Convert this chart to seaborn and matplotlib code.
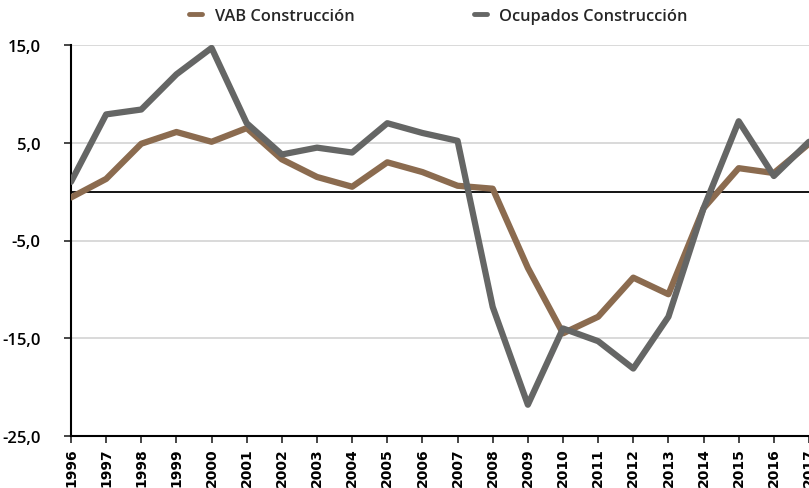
import matplotlib
matplotlib.use("Agg")
import matplotlib.pyplot as plt
import seaborn as sns
import pandas as pd
from matplotlib.ticker import FuncFormatter
from matplotlib.lines import Line2D

years = list(range(1996, 2018))
vab = [-0.6, 1.3, 4.9, 6.1, 5.1, 6.5, 3.3, 1.5, 0.5, 3.0, 2.0, 0.6, 0.3,
       -7.8, -14.5, -12.8, -8.8, -10.5, -1.7, 2.4, 1.9, 4.9]
ocupados = [1.0, 7.9, 8.4, 12.0, 14.7, 7.0, 3.8, 4.5, 4.0, 7.0, 6.0, 5.2, -11.8,
            -21.8, -14.0, -15.3, -18.1, -12.8, -1.7, 7.2, 1.6, 5.1]
series_names = ["VAB Construcción", "Ocupados Construcción"]
y_ticks = [-25, -15, -5, 5, 15]

df = pd.DataFrame({
    "Año": years * 2,
    "Valor": vab + ocupados,
    "Serie": [series_names[0]] * len(years) + [series_names[1]] * len(years),
})

sns.set_style("white")
plt.rcParams["font.family"] = ["Open Sans", "DejaVu Sans"]

fig = plt.figure(figsize=(8.09, 4.89), dpi=100)
ax = fig.add_axes([71 / 809, 1 - 437 / 489, 1 - 71 / 809, (437 - 46) / 489])

palette = {series_names[0]: "#8B6B4F", series_names[1]: "#656665"}
sns.lineplot(data=df, x="Año", y="Valor", hue="Serie", palette=palette,
             linewidth=4.5, ax=ax, legend=False, zorder=3)

ax.set_xlim(years[0], years[-1])
ax.set_ylim(-25, 15)
ax.set_yticks(y_ticks)
ax.yaxis.set_major_formatter(FuncFormatter(lambda v, p: f"{v:.1f}".replace(".", ",")))
ax.set_xticks(years)
ax.set_xticklabels([str(y) for y in years], rotation=90, fontsize=10,
                   family="DejaVu Sans", fontweight="bold", color="black")
ax.tick_params(axis="y", labelsize=12, length=5, width=1.2, direction="out",
               left=True, pad=17, labelcolor="black")
ax.tick_params(axis="x", length=5, width=1.2, direction="out", bottom=True, pad=3)
for lab in ax.get_yticklabels():
    lab.set_fontweight("semibold")

ax.grid(axis="y", color="#d3d3d3", linewidth=1.2, zorder=0)
ax.axhline(0, color="black", linewidth=1.3, zorder=2)
ax.set_xlabel("")
ax.set_ylabel("")
for s in ["top", "right"]:
    ax.spines[s].set_visible(False)
for s in ["left", "bottom"]:
    ax.spines[s].set_color("black")
    ax.spines[s].set_linewidth(1.5)

handles = [Line2D([0], [0], color=palette[n], lw=3.5) for n in series_names]
fig.legend(handles, series_names, loc="upper center", bbox_to_anchor=(0.542, 1.012),
           ncol=2, frameon=False, handlelength=0.8, handletextpad=0.75,
           columnspacing=7.3, prop={"size": 11.8, "weight": "semibold"})

fig.savefig("out.png", dpi=100)
